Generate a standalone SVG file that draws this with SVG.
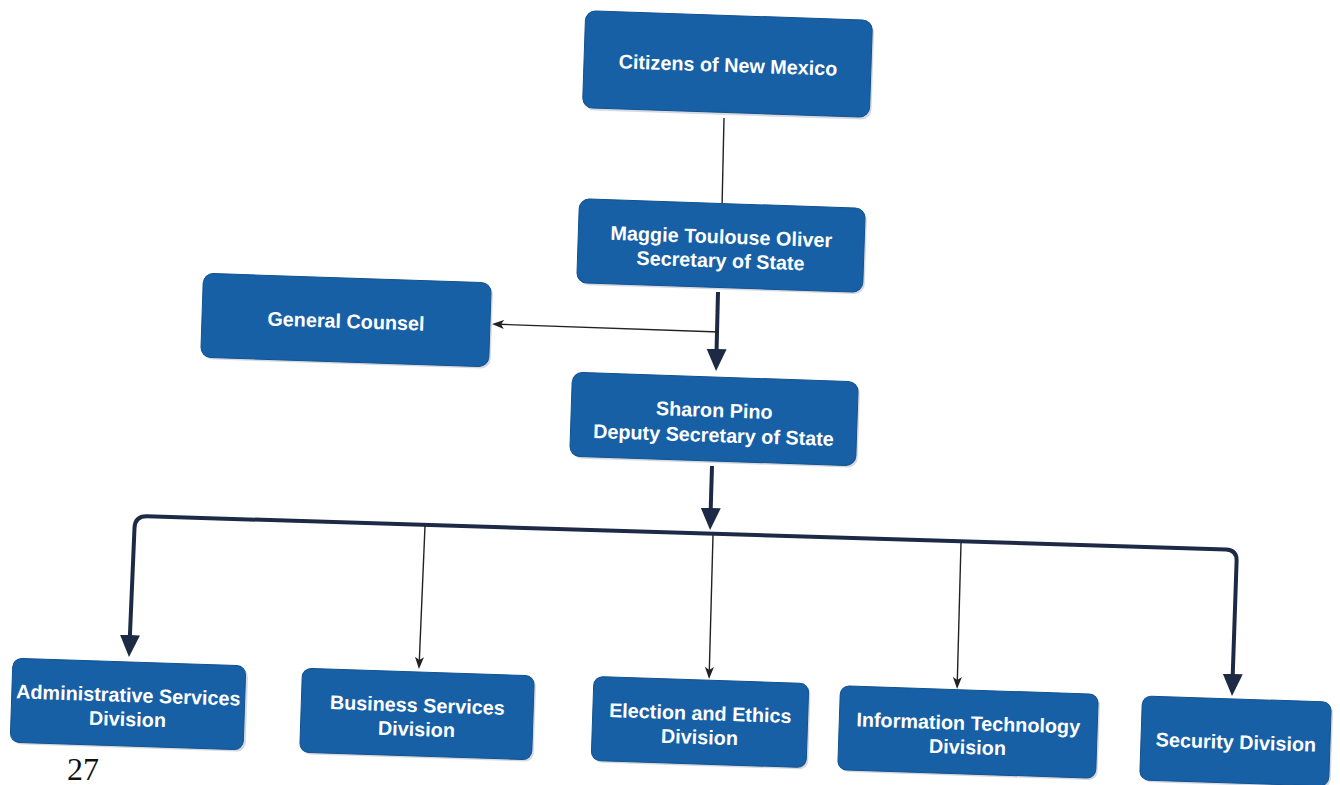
<svg xmlns="http://www.w3.org/2000/svg" width="1340" height="785" viewBox="0 0 1340 785">
<defs>
<style>
.box{fill:#1760a6;stroke:#12528f;stroke-width:1}
.shadow{fill:#b9c2cf;opacity:0.6}
.t{font-family:"Liberation Sans",Arial,sans-serif;font-weight:bold;font-size:19.8px;fill:#ffffff;text-anchor:middle}
.thick{fill:none;stroke:#1d2a45;stroke-width:4;stroke-linejoin:round}
.thin{fill:none;stroke:#222;stroke-width:1.4}
.pg{font-family:"Liberation Serif","Times New Roman",serif;font-size:32px;fill:#111}
</style>
<marker id="bigArrow" markerUnits="userSpaceOnUse" markerWidth="24" markerHeight="22" refX="8" refY="10" orient="auto-start-reverse">
<path d="M0,0 L22,10 L0,20 z" fill="#1d2a45"/>
</marker>
<marker id="smallArrow" markerUnits="userSpaceOnUse" markerWidth="14" markerHeight="10" refX="4" refY="4.5" orient="auto">
<path d="M0,0 L12,4.5 L0,9 L3,4.5 z" fill="#222"/>
</marker>
</defs>
<rect width="1340" height="785" fill="#ffffff"/>

<g id="connectors">
<path class="thin" d="M724,118 L722,208"/>
<path class="thick" d="M718,292 L716.4,357" marker-end="url(#bigArrow)"/>
<path class="thin" d="M719,332 L500,324.3" marker-end="url(#smallArrow)"/>
<path class="thick" d="M712,466 L710.5,516" marker-end="url(#bigArrow)"/>
<path class="thick" d="M129.6,643 L134.5,528 Q135,516 147,516.3 L1226,549.5 Q1237,550 1236.6,561 L1232.5,682" marker-start="url(#bigArrow)" marker-end="url(#bigArrow)"/>
<path class="thin" d="M425,526 L419.3,661" marker-end="url(#smallArrow)"/>
<path class="thin" d="M713,535 L709.3,671" marker-end="url(#smallArrow)"/>
<path class="thin" d="M961,543 L957.3,681" marker-end="url(#smallArrow)"/>
</g>

<g id="citizens" transform="translate(728,64) rotate(1.9)">
<rect class="shadow" x="-142" y="-46" width="287" height="97" rx="10"/>
<rect class="box" x="-144" y="-48.5" width="287" height="97" rx="10"/>
<text class="t" x="0" y="8">Citizens of New Mexico</text>
</g>

<g id="secretary" transform="translate(721,245.5) rotate(1.9)">
<rect class="shadow" x="-141" y="-40" width="286" height="84" rx="10"/>
<rect class="box" x="-143" y="-42" width="286" height="84" rx="10"/>
<text class="t" x="0" y="-2">Maggie Toulouse Oliver</text>
<text class="t" x="0" y="22">Secretary of State</text>
</g>

<g id="general-counsel" transform="translate(346,320) rotate(1.9)">
<rect class="shadow" x="-142" y="-40" width="288" height="84" rx="10"/>
<rect class="box" x="-144" y="-42" width="288" height="84" rx="10"/>
<text class="t" x="0" y="8">General Counsel</text>
</g>

<g id="deputy" transform="translate(714,419) rotate(1.9)">
<rect class="shadow" x="-141" y="-40" width="286" height="84" rx="10"/>
<rect class="box" x="-143" y="-42" width="286" height="84" rx="10"/>
<text class="t" x="0" y="-2">Sharon Pino</text>
<text class="t" x="0" y="23">Deputy Secretary of State</text>
</g>

<g id="admin" transform="translate(128,704) rotate(1.9)">
<rect class="shadow" x="-114" y="-40" width="233" height="84" rx="9"/>
<rect class="box" x="-116.5" y="-42" width="233" height="84" rx="9"/>
<text class="t" x="0" y="-2">Administrative Services</text>
<text class="t" x="0" y="22">Division</text>
</g>

<g id="business" transform="translate(417,714) rotate(1.9)">
<rect class="shadow" x="-114" y="-40" width="232" height="84" rx="9"/>
<rect class="box" x="-116" y="-42" width="232" height="84" rx="9"/>
<text class="t" x="0" y="-2">Business Services</text>
<text class="t" x="0" y="22">Division</text>
</g>

<g id="election" transform="translate(700,722) rotate(1.9)">
<rect class="shadow" x="-105.5" y="-40" width="215" height="84" rx="9"/>
<rect class="box" x="-107.5" y="-42" width="215" height="84" rx="9"/>
<text class="t" x="0" y="-2">Election and Ethics</text>
<text class="t" x="0" y="22">Division</text>
</g>

<g id="it" transform="translate(968,732) rotate(1.9)">
<rect class="shadow" x="-127" y="-40" width="258" height="84" rx="9"/>
<rect class="box" x="-129" y="-42" width="258" height="84" rx="9"/>
<text class="t" x="0" y="-2">Information Technology</text>
<text class="t" x="0" y="22">Division</text>
</g>

<g id="security" transform="translate(1236,741) rotate(1.9)">
<rect class="shadow" x="-93" y="-40" width="189" height="84" rx="9"/>
<rect class="box" x="-95" y="-42" width="189" height="84" rx="9"/>
<text class="t" x="0" y="8">Security Division</text>
</g>

<text class="pg" x="67" y="780">27</text>
</svg>
